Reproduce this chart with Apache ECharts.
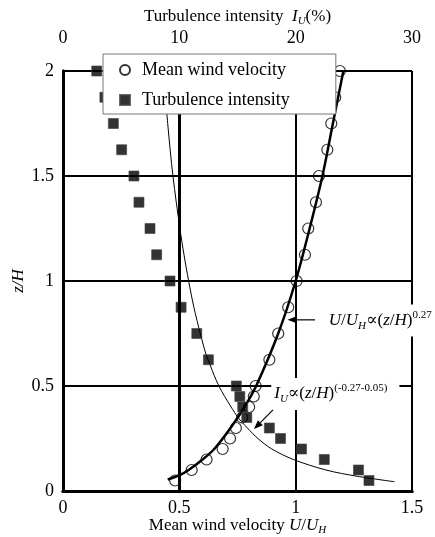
<!DOCTYPE html>
<html><head><meta charset="utf-8">
<script src="https://cdn.jsdelivr.net/npm/echarts@6/dist/echarts.min.js"></script>
<style>html,body{margin:0;padding:0;background:#fff}#c{width:435px;height:537px}</style>
</head><body><div id="c"></div>
<script>
// ---- data ----
const zLevels = [2, 1.875, 1.75, 1.625, 1.5, 1.375, 1.25, 1.125, 1.0, 0.875, 0.75, 0.625, 0.5, 0.45, 0.4, 0.35, 0.3, 0.25, 0.2, 0.15, 0.1, 0.05];
const meanU   = [1.19, 1.17, 1.153, 1.136, 1.10, 1.087, 1.054, 1.04, 1.004, 0.968, 0.925, 0.887, 0.828, 0.82, 0.80, 0.77, 0.743, 0.718, 0.686, 0.617, 0.553, 0.482];
const turbI   = [2.9, 3.6, 4.33, 5.04, 6.1, 6.53, 7.48, 8.05, 9.2, 10.15, 11.5, 12.5, 14.9, 15.2, 15.45, 15.8, 17.74, 18.7, 20.5, 22.46, 25.4, 26.3];
// fitted power-law curves
const fitUz = [0.055, 0.075, 0.1, 0.15, 0.2, 0.3, 0.4, 0.5, 0.75, 1.0, 1.25, 1.5, 1.75, 2.0];
const fitU  = [0.45, 0.50, 0.54, 0.60, 0.65, 0.72, 0.78, 0.83, 0.925, 1.0, 1.06, 1.115, 1.16, 1.205];
const fitIz = [2.0, 1.75, 1.5, 1.25, 1.125, 1.0, 0.875, 0.75, 0.65, 0.6, 0.55, 0.5, 0.45, 0.4, 0.35, 0.3, 0.25, 0.2, 0.15, 0.1, 0.07, 0.044];
const fitI  = [8.65, 9.0, 9.45, 10.05, 10.4, 10.8, 11.25, 11.8, 12.3, 12.65, 13.0, 13.4, 13.9, 14.45, 15.05, 15.85, 16.75, 17.95, 19.8, 22.6, 25.3, 28.5];
const seriesNames = ['Mean wind velocity', 'Turbulence intensity'];
const gridLineU = [0.5];

const F = '"Liberation Serif","DejaVu Serif",serif';
const chart = echarts.init(document.getElementById('c'), null, {renderer: 'canvas'});
const nameRich = {
  i:   {fontFamily: F, fontSize: 17, fontStyle: 'italic', color: '#000', lineHeight: 20},
  sub: {fontFamily: F, fontSize: 11, fontStyle: 'italic', color: '#000', verticalAlign: 'bottom', lineHeight: 8}
};
const pair = (xs, ys) => xs.map((x, k) => [x, ys[k]]);

chart.setOption({
  animation: false,
  backgroundColor: '#fff',
  grid: {left: 63, right: 23, top: 71, bottom: 46, containLabel: false, outerBoundsMode: 'none'},
  legend: {
    data: [{name: seriesNames[0]}, {name: seriesNames[1], icon: 'path://M0 0H10V10H0Z'}],
    orient: 'vertical', left: 103, top: 54, z: 10,
    padding: [7, 46, 5, 16], itemGap: 12, itemWidth: 24, itemHeight: 10,
    backgroundColor: '#fff', borderColor: '#777', borderWidth: 1,
    textStyle: {fontFamily: F, fontSize: 18, color: '#000'}
  },
  xAxis: [
    {type: 'value', position: 'bottom', min: 0, max: 1.5, interval: 0.5,
     name: 'Mean wind velocity {i|U}/{i|U}{sub|H}', nameLocation: 'middle', nameGap: 25,
     nameMoveOverlap: false,
     nameTextStyle: {fontFamily: F, fontSize: 17, color: '#000', lineHeight: 20, rich: nameRich},
     axisLine: {show: true, lineStyle: {color: '#000', width: 3}},
     axisTick: {show: true, inside: true, length: 5, lineStyle: {color: '#000', width: 2}},
     axisLabel: {fontFamily: F, fontSize: 18, color: '#000', margin: 8,
       formatter: v => String(v)},
     splitLine: {show: true, lineStyle: {color: '#000', width: 2}}},
    {type: 'value', position: 'top', min: 0, max: 30, interval: 10,
     name: 'Turbulence intensity  {i|I}{sub|U}(%)', nameLocation: 'middle', nameGap: 44,
     nameMoveOverlap: false,
     nameTextStyle: {fontFamily: F, fontSize: 17, color: '#000', lineHeight: 20, rich: nameRich},
     axisLine: {show: true, lineStyle: {color: '#000', width: 3}},
     axisTick: {show: false},
     axisLabel: {fontFamily: F, fontSize: 18, color: '#000', margin: 24},
     splitLine: {show: false}}
  ],
  yAxis: [
    {type: 'value', position: 'left', min: 0, max: 2, interval: 0.5,
     name: 'z/H', nameLocation: 'middle', nameGap: 36, nameMoveOverlap: false,
     nameTextStyle: {fontFamily: F, fontSize: 17, fontStyle: 'italic', color: '#000'},
     axisLine: {show: true, lineStyle: {color: '#000', width: 3}},
     axisTick: {show: true, inside: true, length: 5, lineStyle: {color: '#000', width: 2}},
     axisLabel: {fontFamily: F, fontSize: 18, color: '#000', margin: 9},
     splitLine: {show: true, lineStyle: {color: '#000', width: 2}}},
    {type: 'value', position: 'right', min: 0, max: 2, interval: 0.5,
     axisLine: {show: true, lineStyle: {color: '#000', width: 3}},
     axisTick: {show: false}, axisLabel: {show: false}, splitLine: {show: false}}
  ],
  series: [
    {name: seriesNames[0], type: 'scatter', xAxisIndex: 0, yAxisIndex: 0, z: 2,
     symbol: 'circle', symbolSize: 11,
     itemStyle: {color: 'rgba(255,255,255,0)', borderColor: '#000', borderWidth: 1.2},
     data: pair(meanU, zLevels),
     markLine: {silent: true, symbol: 'none', label: {show: false},
       lineStyle: {color: '#000', width: 3, type: 'solid'},
       data: gridLineU.map(v => ({xAxis: v}))}},
    {name: 'fitU', type: 'line', xAxisIndex: 0, yAxisIndex: 0, z: 3,
     showSymbol: false, smooth: 0.3,
     lineStyle: {color: '#000', width: 2.5}, data: pair(fitU, fitUz)},
    {name: 'fitI', type: 'line', xAxisIndex: 1, yAxisIndex: 0, z: 3,
     showSymbol: false, smooth: 0.3,
     lineStyle: {color: '#000', width: 1}, data: pair(fitI, fitIz)},
    {name: seriesNames[1], type: 'scatter', xAxisIndex: 1, yAxisIndex: 0, z: 4,
     symbol: 'rect', symbolSize: 10,
     itemStyle: {color: '#000', borderColor: '#444', borderWidth: 0.8},
     data: pair(turbI, zLevels)}
  ]
});

// ---- annotations (anchored in data coordinates) ----
const px = (u, z) => chart.convertToPixel({seriesIndex: 0}, [u, z]);
const txtRich = {
  i:   {fontFamily: F, fontSize: 17, fontStyle: 'italic', fill: '#000', lineHeight: 22},
  n:   {fontFamily: F, fontSize: 17, fill: '#000', lineHeight: 22},
  sub: {fontFamily: F, fontSize: 11, fontStyle: 'italic', fill: '#000', verticalAlign: 'bottom', lineHeight: 9},
  sup: {fontFamily: F, fontSize: 11, fill: '#000', verticalAlign: 'top', lineHeight: 9}
};
function arrow(t, h) {
  const dx = h[0] - t[0], dy = h[1] - t[1], L = Math.hypot(dx, dy);
  const ux = dx / L, uy = dy / L, hl = 9, hw = 3.5;
  const bx = h[0] - ux * hl, by = h[1] - uy * hl;
  return [
    {type: 'line', z: 101, shape: {x1: t[0], y1: t[1], x2: bx, y2: by}, style: {stroke: '#000', lineWidth: 1.2}},
    {type: 'polygon', z: 101, shape: {points: [[h[0], h[1]], [bx - uy * hw, by + ux * hw], [bx + uy * hw, by - ux * hw]]}, style: {fill: '#000'}}
  ];
}
const t1 = px(1.125, 0.812), t2 = px(0.895, 0.462);
chart.setOption({
  graphic: [
    {type: 'text', x: t1[0], y: t1[1], z: 100,
     style: {text: '{i|U}{n|/}{i|U}{sub|H}{n|∝(}{i|z}{n|/}{i|H}{n|)}{sup|0.27}', rich: txtRich,
       fontFamily: F, fontSize: 17, fill: '#000', backgroundColor: '#fff', padding: [5, 8, 5, 4],
       align: 'left', verticalAlign: 'middle', textAlign: 'left', textVerticalAlign: 'middle'}},
    {type: 'text', x: t2[0], y: t2[1], z: 100,
     style: {text: '{i|I}{sub|U}{n|∝(}{i|z}{n|/}{i|H}{n|)}{sup|(-0.27-0.05)}', rich: txtRich,
       fontFamily: F, fontSize: 17, fill: '#000', backgroundColor: '#fff', padding: [5, 12, 5, 3],
       align: 'left', verticalAlign: 'middle', textAlign: 'left', textVerticalAlign: 'middle'}},
    ...arrow(px(1.083, 0.815), px(0.965, 0.815)),
    ...arrow(px(0.9025, 0.386), px(0.821, 0.295))
  ]
});
</script></body></html>
